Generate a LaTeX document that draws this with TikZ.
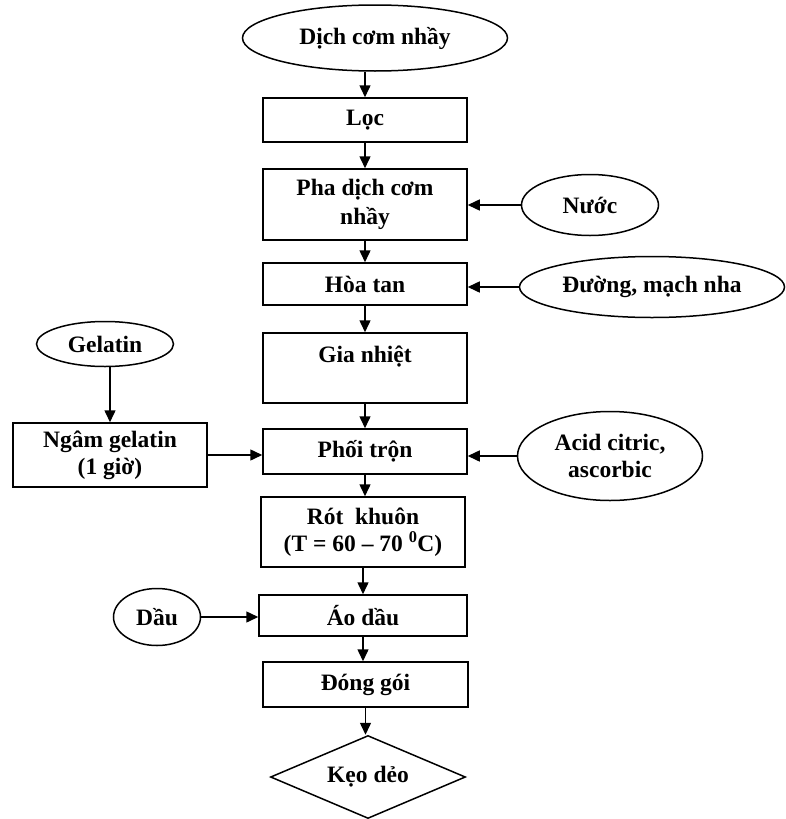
\documentclass[tikz,border=0pt]{standalone}
\usepackage{fontspec}
\setmainfont{Liberation Serif}
\usetikzlibrary{shapes.geometric,arrows.meta}
\begin{document}
\begin{tikzpicture}[x=1pt,y=-1pt,
  font=\bfseries\fontsize{23.5}{27}\selectfont,
  every node/.style={inner sep=0pt, line width=1.5pt},
  procbox/.style={draw, rectangle, align=center},
  inbox/.style={draw, ellipse, align=center},
  flow/.style={line width=1.5pt, -{Triangle[length=12pt,width=11pt]}}]
\useasboundingbox (0,0) rectangle (785,819);
% main column
\node[inbox, minimum width=265, minimum height=66] (src) at (375,38) {Dịch cơm nhầy};
\node[procbox, minimum width=204, minimum height=44] (loc) at (365,120) {Lọc};
\node[procbox, minimum width=204, minimum height=71] (pha) at (365,204.5) {Pha dịch cơm\\[2pt]nhầy};
\node[procbox, minimum width=204, minimum height=42] (hoa) at (365,284) {Hòa tan};
\node[procbox, minimum width=204, minimum height=70] (gia) at (365,368) {Gia nhiệt\\~};
\node[procbox, minimum width=204, minimum height=45] (phoi) at (365,451.5) {Phối trộn};
\node[procbox, minimum width=204, minimum height=70] (rot) at (363,532) {Rót~ khuôn\\(T = 60 – 70 \textsuperscript{0}C)};
\node[procbox, minimum width=208, minimum height=41] (ao) at (363,615.5) {Áo dầu};
\node[procbox, minimum width=205, minimum height=45] (dong) at (365.5,684.5) {Đóng gói};
\node[draw, diamond, aspect=2.35, minimum width=195, minimum height=83] (keo) at (368,777) {Kẹo dẻo};
% inputs
\node[inbox, minimum width=137, minimum height=61] (nuoc) at (590,205) {Nước};
\node[inbox, minimum width=265, minimum height=61] (duong) at (652,287) {Đường, mạch nha};
\node[inbox, minimum width=137, minimum height=45] (gel) at (105,344) {Gelatin};
\node[procbox, minimum width=194, minimum height=64] (ngam) at (110,455) {Ngâm gelatin\\(1 giờ)};
\node[inbox, minimum width=185, minimum height=89] (acid) at (610,456) {Acid citric,\\ascorbic};
\node[inbox, minimum width=87, minimum height=57] (dau) at (157,617) {Dầu};
% flow arrows
\draw[flow] (loc.north |- src.south) -- (loc.north);
\draw[flow] (loc.south) -- (pha.north);
\draw[flow] (pha.south) -- (hoa.north);
\draw[flow] (hoa.south) -- (gia.north);
\draw[flow] (gia.south) -- (phoi.north);
\draw[flow] (phoi.south) -- (phoi.south |- rot.north);
\draw[flow] (rot.south) -- (ao.north);
\draw[flow] (ao.south) -- (ao.south |- dong.north);
\draw[flow] (dong.south) -- (dong.south |- keo.north);
\draw[flow] (nuoc.west) -- (nuoc.west -| pha.east);
\draw[flow] (duong.west) -- (duong.west -| hoa.east);
\draw[flow] (acid.west) -- (acid.west -| phoi.east);
\draw[flow] (ngam.east) -- (ngam.east -| phoi.west);
\draw[flow] (ngam.north |- gel.south) -- (ngam.north);
\draw[flow] (dau.east) -- (dau.east -| ao.west);
\end{tikzpicture}
\end{document}
